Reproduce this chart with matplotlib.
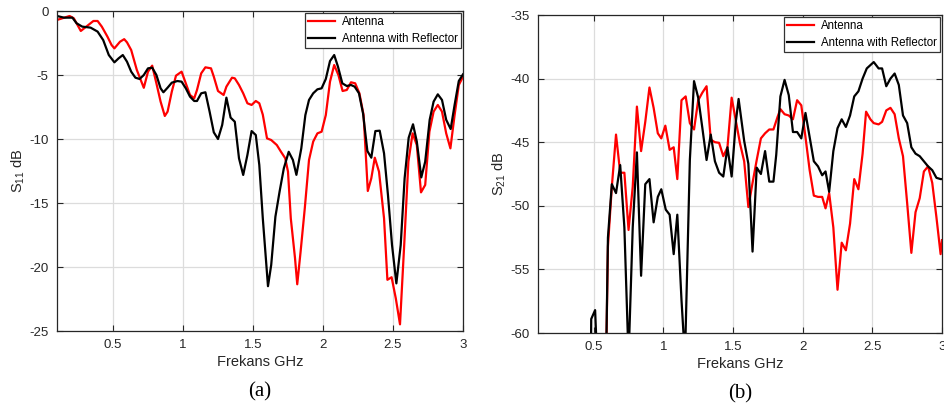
import matplotlib
matplotlib.use("Agg")
import matplotlib.pyplot as plt

plt.rcParams['font.family'] = ['Liberation Sans', 'DejaVu Sans']
plt.rcParams['mathtext.fontset'] = 'custom'
plt.rcParams['mathtext.rm'] = 'Liberation Sans'
plt.rcParams['mathtext.it'] = 'Liberation Sans:italic'
plt.rcParams['axes.unicode_minus'] = False

# ---------------- (a) S11 ----------------
s11_ant_f = [0.10, 0.19, 0.22, 0.27, 0.33, 0.36, 0.39, 0.42, 0.46, 0.49, 0.51, 0.55, 0.58, 0.60,
             0.63, 0.67, 0.72, 0.75, 0.78, 0.81, 0.84, 0.87, 0.89, 0.92, 0.95, 0.99, 1.02, 1.05,
             1.08, 1.10, 1.13, 1.16, 1.20, 1.22, 1.25, 1.29, 1.31, 1.35, 1.37, 1.40, 1.43, 1.46,
             1.49, 1.52, 1.545, 1.57, 1.60, 1.63, 1.67, 1.70, 1.73, 1.75, 1.77, 1.80, 1.816,
             1.84, 1.87, 1.90, 1.93, 1.96, 1.99, 2.02, 2.05, 2.08, 2.11, 2.14, 2.17, 2.20, 2.23,
             2.26, 2.29, 2.32, 2.345, 2.37, 2.40, 2.436, 2.46, 2.49, 2.52, 2.55, 2.58, 2.61, 2.64,
             2.67, 2.70, 2.73, 2.76, 2.79, 2.82, 2.85, 2.88, 2.91, 2.94, 2.97, 3.00]
s11_ant_db = [-0.70, -0.39, -0.57, -1.56, -1.04, -0.78, -0.78, -1.22, -2.00, -2.66, -2.92, -2.40,
              -2.20, -2.45, -3.05, -4.60, -6.00, -4.74, -4.27, -5.65, -7.08, -8.20, -7.86, -6.30,
              -5.05, -4.74, -5.65, -6.56, -6.82, -6.17, -4.87, -4.40, -4.48, -5.13, -6.25, -6.56,
              -5.91, -5.21, -5.26, -5.78, -6.43, -7.21, -7.34, -7.03, -7.21, -8.10, -9.95, -10.08,
              -10.47, -11.00, -11.50, -12.55, -16.20, -19.30, -21.35, -18.80, -15.40, -11.64,
              -10.20, -9.56, -9.43, -8.13, -5.52, -4.22, -5.00, -6.25, -6.17, -5.57, -5.65, -6.43,
              -8.13, -14.06, -13.07, -11.46, -12.55, -16.20, -21.00, -20.80, -22.45, -24.48,
              -18.28, -11.77, -9.56, -10.47, -14.17, -13.59, -9.43, -7.86, -7.34, -7.86, -9.56,
              -10.73, -8.13, -5.78, -5.13]

s11_ref_f = [0.10, 0.15, 0.21, 0.24, 0.28, 0.34, 0.39, 0.43, 0.47, 0.51, 0.54, 0.57, 0.60, 0.63,
             0.66, 0.69, 0.72, 0.75, 0.78, 0.81, 0.84, 0.86, 0.89, 0.92, 0.96, 0.99, 1.02, 1.05,
             1.08, 1.10, 1.13, 1.16, 1.19, 1.22, 1.25, 1.28, 1.31, 1.34, 1.37, 1.40, 1.43, 1.46,
             1.49, 1.52, 1.545, 1.57, 1.607, 1.63, 1.66, 1.69, 1.72, 1.755, 1.785, 1.81, 1.845,
             1.874, 1.90, 1.93, 1.96, 1.99, 2.02, 2.05, 2.08, 2.107, 2.138, 2.17, 2.20, 2.226,
             2.257, 2.286, 2.317, 2.345, 2.374, 2.405, 2.436, 2.464, 2.493, 2.524, 2.555, 2.583,
             2.612, 2.643, 2.67, 2.702, 2.73, 2.762, 2.79, 2.82, 2.85, 2.88, 2.912, 2.94, 2.97,
             3.00]
s11_ref_db = [-0.39, -0.52, -0.52, -0.96, -1.22, -1.30, -1.61, -2.27, -3.44, -4.01, -3.70, -3.44,
              -3.96, -4.74, -5.21, -5.31, -5.00, -4.48, -4.43, -5.00, -6.04, -6.35, -5.99, -5.60,
              -5.47, -5.52, -6.04, -6.69, -7.03, -7.03, -6.43, -6.35, -7.86, -9.48, -10.00, -8.90,
              -6.77, -8.33, -8.65, -11.51, -12.81, -11.25, -9.38, -9.69, -12.03, -16.20, -21.50,
              -19.84, -16.07, -14.10, -12.30, -11.00, -11.64, -12.80, -10.73, -8.13, -6.95, -6.43,
              -6.12, -6.04, -5.31, -3.91, -3.44, -4.35, -5.65, -5.86, -5.78, -5.91, -6.43, -8.00,
              -10.94, -11.46, -9.38, -9.35, -11.12, -14.37, -18.28, -21.28, -18.28, -13.07, -9.90,
              -8.85, -10.20, -13.00, -11.77, -8.50, -7.08, -6.51, -6.95, -8.50, -9.22, -7.34,
              -5.47, -4.95]

# ---------------- (b) S21 ----------------
s21_ant_f = [0.10, 0.585, 0.602, 0.63, 0.66, 0.69, 0.72, 0.75, 0.78, 0.81, 0.84, 0.87, 0.90, 0.93,
             0.96, 0.985, 1.014, 1.045, 1.074, 1.10, 1.13, 1.16, 1.19, 1.22, 1.25, 1.28, 1.31,
             1.34, 1.37, 1.40, 1.43, 1.46, 1.49, 1.52, 1.55, 1.58, 1.61, 1.64, 1.67, 1.70, 1.73,
             1.76, 1.79, 1.82, 1.84, 1.87, 1.90, 1.93, 1.96, 1.99, 2.02, 2.05, 2.08, 2.11, 2.14,
             2.164, 2.19, 2.22, 2.25, 2.28, 2.31, 2.34, 2.37, 2.40, 2.43, 2.455, 2.486, 2.51,
             2.545, 2.57, 2.60, 2.63, 2.66, 2.69, 2.72, 2.75, 2.78, 2.81, 2.84, 2.87, 2.90, 2.93,
             2.96, 2.99, 3.00]
s21_ant_db = [-65.0, -65.0, -53.2, -48.5, -44.4, -47.4, -47.4, -51.9, -48.5, -42.2, -45.7, -43.4,
              -40.7, -42.3, -44.3, -44.7, -43.7, -45.6, -45.4, -47.9, -41.7, -41.4, -43.5, -44.0,
              -41.7, -41.1, -40.6, -44.8, -45.0, -45.05, -46.1, -45.4, -41.5, -43.3, -45.1, -46.5,
              -50.1, -48.2, -46.4, -44.7, -44.3, -44.0, -44.0, -43.0, -42.4, -42.8, -42.9, -43.2,
              -41.7, -42.1, -44.6, -47.2, -49.2, -49.3, -49.3, -50.2, -49.0, -51.7, -56.6, -52.9,
              -53.5, -51.4, -47.9, -48.7, -45.9, -42.6, -43.2, -43.5, -43.6, -43.4, -42.5, -42.3,
              -42.8, -44.7, -46.1, -49.8, -53.7, -50.5, -49.4, -47.3, -46.9, -48.2, -50.9, -53.8,
              -52.7]

s21_ref_f = [0.10, 0.478, 0.482, 0.51, 0.535, 0.585, 0.602, 0.63, 0.66, 0.69, 0.72, 0.75, 0.78,
             0.81, 0.84, 0.87, 0.90, 0.93, 0.96, 0.985, 1.017, 1.045, 1.074, 1.10, 1.13, 1.155,
             1.19, 1.22, 1.25, 1.28, 1.31, 1.34, 1.37, 1.40, 1.43, 1.46, 1.49, 1.52, 1.54, 1.58,
             1.61, 1.64, 1.67, 1.70, 1.73, 1.76, 1.79, 1.81, 1.84, 1.87, 1.90, 1.93, 1.96, 1.99,
             2.02, 2.05, 2.08, 2.11, 2.14, 2.164, 2.19, 2.22, 2.25, 2.28, 2.31, 2.34, 2.37, 2.40,
             2.43, 2.46, 2.49, 2.51, 2.545, 2.57, 2.60, 2.63, 2.66, 2.69, 2.72, 2.75, 2.78, 2.81,
             2.84, 2.87, 2.90, 2.93, 2.96, 2.99, 3.00]
s21_ref_db = [-65.0, -65.0, -58.9, -58.2, -65.0, -65.0, -52.5, -48.3, -49.0, -46.8, -51.7, -62.0,
              -51.7, -45.8, -55.5, -48.3, -47.9, -51.3, -49.3, -48.7, -50.3, -50.7, -53.8, -50.7,
              -57.4, -62.0, -46.4, -40.2, -41.5, -43.9, -46.4, -44.4, -46.5, -47.4, -47.7, -45.4,
              -47.7, -43.4, -41.6, -44.9, -46.7, -53.6, -47.0, -47.5, -45.7, -48.1, -48.1, -46.0,
              -41.4, -40.1, -41.3, -44.2, -44.2, -44.7, -42.7, -44.6, -46.5, -46.9, -47.6, -47.3,
              -48.9, -45.7, -43.9, -43.2, -43.8, -42.9, -41.4, -41.0, -40.0, -39.2, -38.9, -38.7,
              -39.2, -39.2, -40.6, -40.0, -39.6, -40.5, -42.9, -43.5, -45.4, -45.9, -46.1, -46.5,
              -46.9, -47.2, -47.8, -47.9, -47.9]

series_labels = ["Antenna", "Antenna with Reflector"]
xticks = [0.5, 1, 1.5, 2, 2.5, 3]
xtick_labels = ["0.5", "1", "1.5", "2", "2.5", "3"]
yticks_a = [-25, -20, -15, -10, -5, 0]
yticks_b = [-60, -55, -50, -45, -40, -35]

W, H = 944, 407
fig = plt.figure(figsize=(W / 100, H / 100), dpi=100)
ax1 = fig.add_axes([57 / W, 1 - 331 / H, 406 / W, 320 / H])
ax2 = fig.add_axes([538 / W, 1 - 333 / H, 404 / W, 318 / H])

tc = '#262626'
panels = [
    (ax1, s11_ant_f, s11_ant_db, s11_ref_f, s11_ref_db, (-25, 0), yticks_a, 'S$_{\\mathregular{11}}$ dB', '(a)'),
    (ax2, s21_ant_f, s21_ant_db, s21_ref_f, s21_ref_db, (-60, -35), yticks_b, 'S$_{\\mathregular{21}}$ dB', '(b)'),
]
for ax, af, ad, rf, rd, ylim, yt, ylab, tag in panels:
    ax.plot(af, ad, color='#ff0000', lw=1.6, label=series_labels[0])
    ax.plot(rf, rd, color='black', lw=1.6, label=series_labels[1])
    ax.set_xlim(0.1, 3)
    ax.set_ylim(*ylim)
    ax.set_xticks(xticks)
    ax.set_xticklabels(xtick_labels)
    ax.set_yticks(yt)
    ax.grid(True, color='#dcdcdc', lw=0.9)
    ax.set_axisbelow(True)
    ax.tick_params(direction='in', top=True, right=True, labelsize=9.5, colors=tc,
                   length=4, width=0.8, pad=6)
    for sp in ax.spines.values():
        sp.set_color(tc)
        sp.set_linewidth(0.9)
    ax.set_xlabel('Frekans GHz', fontsize=10.5, color=tc, labelpad=3)
    ax.set_ylabel(ylab, fontsize=10.5, color=tc, labelpad=2)
    leg = ax.legend(loc='upper right', fontsize=8.3, fancybox=False, framealpha=1,
                    edgecolor='#333333', borderaxespad=0.15, handlelength=2.3,
                    borderpad=0.3, labelspacing=0.4, handletextpad=0.6)
    leg.get_frame().set_linewidth(0.9)
    ax.text(0.5, -0.19, tag, transform=ax.transAxes, ha='center', va='center',
            fontsize=15, family='Liberation Serif', color='black')

fig.savefig('out.png', dpi=100)
